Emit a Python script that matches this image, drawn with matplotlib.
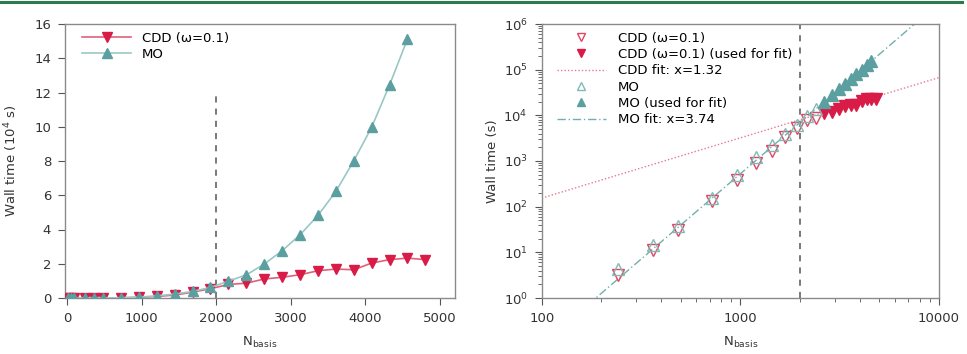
import numpy as np
import matplotlib
matplotlib.use("Agg")
import matplotlib.pyplot as plt
from matplotlib.lines import Line2D

# ---------------- data ----------------
n_basis = [10, 50, 90, 243, 363, 483, 723, 963, 1203, 1443, 1683, 1923, 2163,
           2403, 2643, 2883, 3123, 3363, 3603, 3843, 4083, 4323, 4563, 4803]
cdd_time = [0.05, 0.3, 0.8, 3.2, 11.4, 31, 134, 387, 925, 1694, 3430, 5390, 7940,
            8630, 11100, 12100, 13600, 15900, 16900, 16500, 20400, 22400, 23300, 22400]
mo_n_basis = n_basis[:-1]
mo_time = [0.05, 0.4, 1.0, 4.3, 14.7, 37, 154, 497, 1253, 2254, 3854, 6170, 9860,
           13500, 19800, 27600, 36900, 48200, 62200, 80100, 99700, 124400, 151200]
fit_start_n = 2643          # points from here on were used for the fits
cutoff_n = 2000             # vertical dashed line
cdd_fit_exp, cdd_fit_log_pref = 1.32, -0.453
mo_fit_exp, mo_fit_log_pref = 3.74, -8.50

cdd_label = "CDD (\u03c9=0.1)"
mo_label = "MO"

# ---------------- style ----------------
FS = 9.5
plt.rcParams.update({
    "font.family": ["DejaVu Sans"],
    "font.size": FS,
    "axes.edgecolor": "#8a8a8a",
    "axes.linewidth": 1.0,
    "xtick.color": "#555555",
    "ytick.color": "#555555",
    "xtick.labelcolor": "#333333",
    "ytick.labelcolor": "#333333",
    "axes.labelcolor": "#333333",
    "xtick.major.size": 5,
    "ytick.major.size": 5,
    "xtick.major.pad": 5,
    "ytick.major.pad": 5,
    "xtick.minor.size": 3,
    "ytick.minor.size": 3,
})
red = "#d81b47"
red_line = "#e0607a"
teal = "#5b9fa0"
teal_line = "#98c8c5"
teal_open = "#80b9b5"

fig = plt.figure(figsize=(9.67, 3.54), dpi=100)
# green banner line at the top
fig.add_artist(Line2D([0, 0.995], [0.995, 0.995], transform=fig.transFigure,
                      color="#2e7a4f", lw=2.2))

axL = fig.add_axes([65 / 967, 56 / 354, 390 / 967, 274 / 354])
axR = fig.add_axes([541.7 / 967, 56 / 354, 397.3 / 967, 274 / 354])

N = np.array(n_basis, float)
Nm = np.array(mo_n_basis, float)
tc = np.array(cdd_time, float)
tm = np.array(mo_time, float)

# ---------------- left panel ----------------
axL.plot(N, tc / 1e4, color=red_line, lw=1.2, marker="v", ms=7.5,
         mfc=red, mec=red, label=cdd_label, zorder=3)
axL.plot(Nm, tm / 1e4, color=teal_line, lw=1.2, marker="^", ms=7.5,
         mfc=teal, mec=teal, label=mo_label, zorder=3)
axL.plot([cutoff_n, cutoff_n], [0, 11.8], color="#555555", lw=1.1,
         ls=(0, (4, 4)), zorder=2)
axL.set_xlim(-27, 5200)
axL.set_ylim(0, 16)
axL.set_xticks(range(0, 5001, 1000))
axL.set_yticks(range(0, 17, 2))
axL.set_xlabel("N$_{\\mathrm{basis}}$", labelpad=7)
axL.set_ylabel("Wall time (10$^4$ s)", labelpad=10)
axL.legend(loc="upper left", bbox_to_anchor=(0.044, 0.972), frameon=False,
           borderaxespad=0, borderpad=0, handlelength=3.7, handletextpad=0.8,
           labelspacing=0.25, fontsize=FS, markerscale=0.9)

# ---------------- right panel ----------------
used = N >= fit_start_n
used_m = Nm >= fit_start_n
axR.set_xscale("log")
axR.set_yscale("log")
axR.plot(N[~used], tc[~used], ls="none", marker="v", ms=8, mfc="none",
         mec="#e04562", mew=1.0, label=cdd_label, zorder=4)
axR.plot(N[used], tc[used], ls="none", marker="v", ms=8, mfc=red,
         mec=red, label=cdd_label + " (used for fit)", zorder=4)
xf = np.logspace(2, 4, 200)
axR.plot(xf, 10 ** cdd_fit_log_pref * xf ** cdd_fit_exp, color="#ea7890",
         lw=1.0, ls=(0, (1, 1.5)), label=f"CDD fit: x={cdd_fit_exp:.2f}", zorder=2)
axR.plot(Nm[~used_m], tm[~used_m], ls="none", marker="^", ms=8, mfc="none",
         mec=teal_open, mew=1.0, label=mo_label, zorder=4)
axR.plot(Nm[used_m], tm[used_m], ls="none", marker="^", ms=8, mfc=teal,
         mec=teal, label=mo_label + " (used for fit)", zorder=4)
axR.plot(xf, 10 ** mo_fit_log_pref * xf ** mo_fit_exp, color="#70afaa",
         lw=1.0, ls=(0, (6, 2, 1, 2)), label=f"MO fit: x={mo_fit_exp:.2f}", zorder=2)
axR.axvline(cutoff_n, color="#555555", lw=1.1, ls=(0, (4, 4)), zorder=1)
axR.set_xlim(100, 10000)
axR.set_ylim(1, 1e6)
axR.set_xticks([100, 1000, 10000])
axR.set_xticklabels(["100", "1000", "10000"])
axR.set_yticks([10.0 ** k for k in range(7)])
axR.set_xlabel("N$_{\\mathrm{basis}}$", labelpad=7)
axR.set_ylabel("Wall time (s)", labelpad=3)
axR.legend(loc="upper left", bbox_to_anchor=(0.0385, 0.972), frameon=False,
           borderaxespad=0, borderpad=0, handlelength=3.7, handletextpad=0.9,
           labelspacing=0.25, fontsize=FS, markerscale=0.8)

fig.savefig("out.png", dpi=100)
